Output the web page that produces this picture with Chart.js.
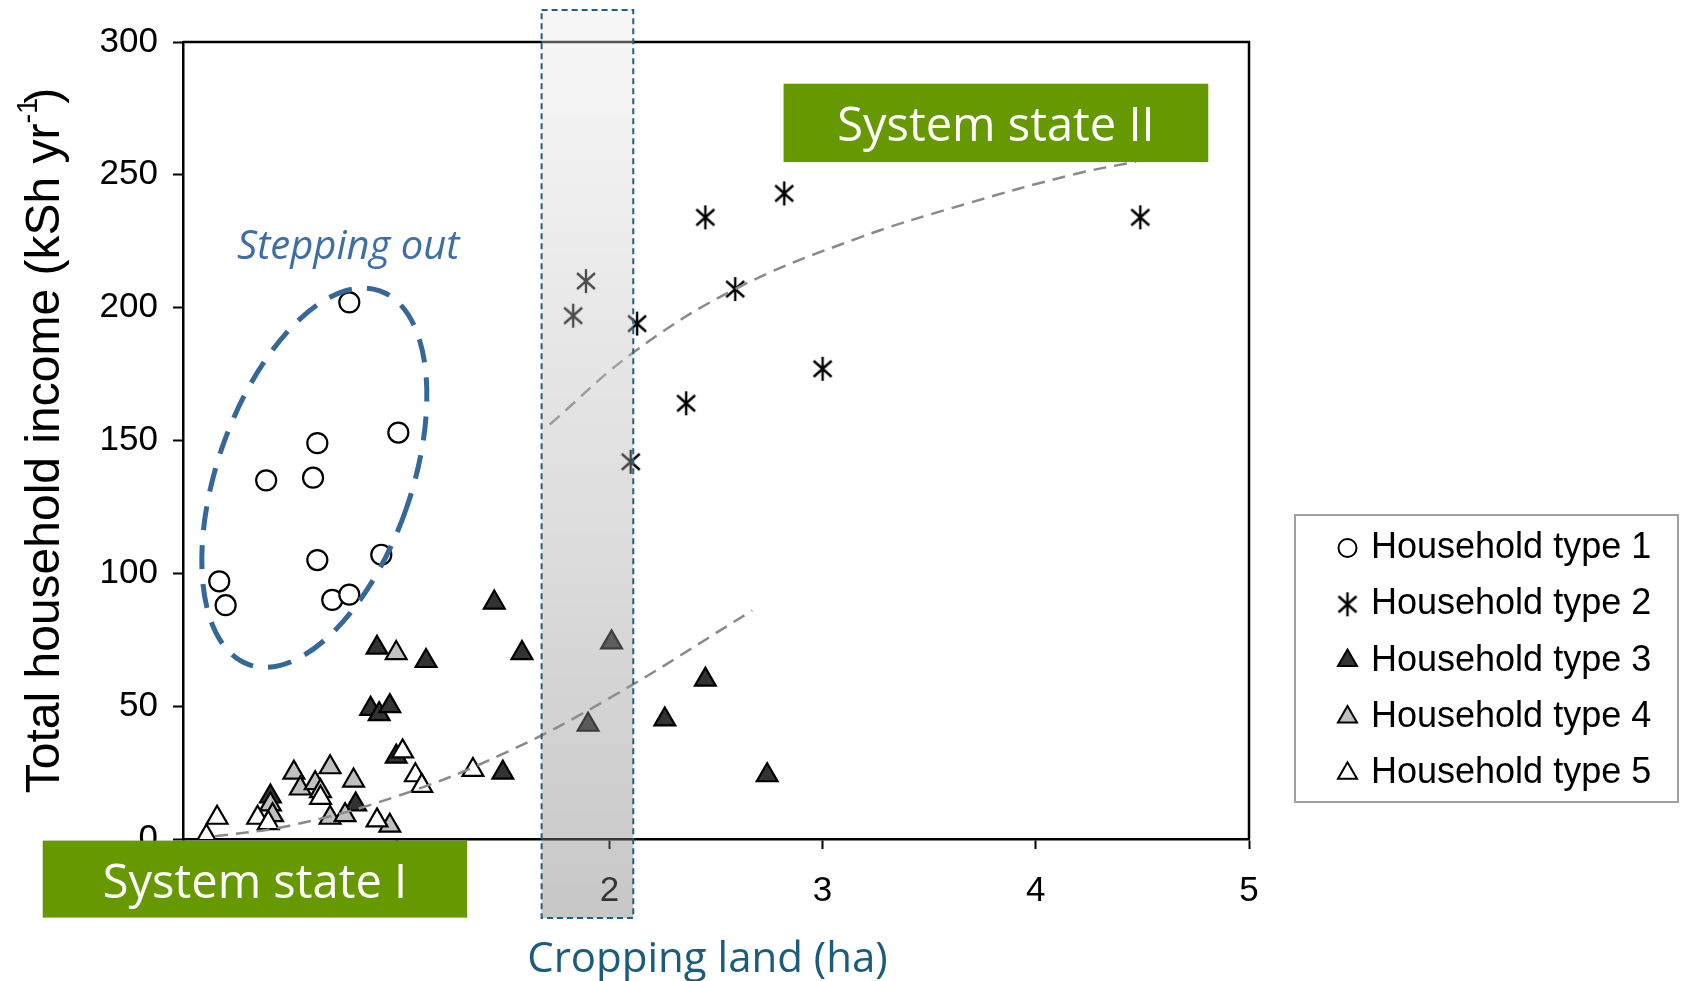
<!DOCTYPE html>
<html>
<head>
<meta charset="utf-8">
<title>Household income vs cropping land</title>
<script src="https://cdn.jsdelivr.net/npm/chart.js@4.4.1/dist/chart.umd.min.js"></script>
<style>
  html, body { margin: 0; padding: 0; background: #fff; }
  #wrap { width: 1681px; height: 981px; position: relative; }
</style>
</head>
<body>
<div id="wrap"><canvas id="chart"></canvas></div>
<script>
// --- data ---
const seriesLabels = ['Household type 1', 'Household type 2', 'Household type 3', 'Household type 4', 'Household type 5'];

const type1X = [0.17, 0.20, 0.39, 0.61, 0.63, 0.63, 0.70, 0.78, 0.78, 0.93, 1.01];
const type1Y = [97, 88, 135, 136, 149, 105, 90, 92, 202, 107, 153];

const type2X = [1.83, 1.89, 2.13, 2.10, 2.36, 2.45, 2.59, 2.82, 3.00, 4.49];
const type2Y = [197, 210, 194, 142, 164, 234, 207, 243, 177, 234];

const type3X = [0.41, 0.81, 0.88, 0.91, 0.92, 0.97, 1.00, 1.14, 1.46, 1.50, 1.59, 1.90, 2.01, 2.26, 2.45, 2.74];
const type3Y = [16, 13, 49, 72, 47, 50, 31, 67, 89, 25, 70, 43, 74, 45, 60, 24];

const type4X = [0.41, 0.42, 0.52, 0.55, 0.62, 0.645, 0.69, 0.69, 0.76, 0.80, 0.97, 1.00];
const type4Y = [13, 9, 25, 19, 21, 18, 27, 8, 9, 22, 5, 70];

const type5X = [0.11, 0.16, 0.35, 0.40, 0.645, 0.91, 1.03, 1.09, 1.12, 1.36];
const type5Y = [1, 8, 8, 6, 15.5, 7, 33, 24, 20, 26];

// dashed trend curves
const trendLowX = [0.15, 0.5, 1.0, 1.5, 2.0, 2.67];
const trendLowY = [1, 5, 16, 32, 53, 86];
const trendHighX = [1.72, 2.11, 2.59, 3.16, 3.67, 4.17, 4.47];
const trendHighY = [156, 183, 207, 226, 239, 250, 255];

const xTicks = [0, 1, 2, 3, 4, 5];
const yTicks = [0, 50, 100, 150, 200, 250, 300];

// annotation anchors (data units)
const bandFrom = 1.682, bandTo = 2.112;
const ellipseCenter = { x: 0.616, y: 136 };
const steppingAt = { x: 0.775, y: 222.5 };
const stateOne = { x0: -0.658, x1: 1.333, y0: -0.6, y1: -29.6 };
const stateTwo = { x0: 2.817, x1: 4.809, y0: 284.3, y1: 254.8 };
const xTitleAt = 2.46;

const tickFont = { family: "'Liberation Sans', Arial, sans-serif", size: 35 };

// asterisk marker (vertical bar + X) used for type 2
const asterisk = document.createElement('canvas');
asterisk.width = 22;
asterisk.height = 26;
(() => {
    const a = asterisk.getContext('2d');
    a.strokeStyle = '#000';
    a.lineWidth = 2.4;
    a.beginPath();
    a.moveTo(11, 1); a.lineTo(11, 25);
    a.moveTo(2, 5); a.lineTo(20, 21);
    a.moveTo(20, 5); a.lineTo(2, 21);
    a.stroke();
})();

const toPoints = (xs, ys) => xs.map((x, i) => ({ x: x, y: ys[i] }));

const markerStyles = [
    { pointStyle: 'circle', radius: 10, fill: '#ffffff', legendRadius: 9 },
    { pointStyle: asterisk, radius: 12, fill: '#000000', legendRadius: 12 },
    { pointStyle: 'triangle', radius: 12, fill: '#333333', legendRadius: 11 },
    { pointStyle: 'triangle', radius: 12, fill: '#c0c0c0', legendRadius: 11 },
    { pointStyle: 'triangle', radius: 12, fill: '#ffffff', legendRadius: 11 }
];

const seriesX = [type1X, type2X, type3X, type4X, type5X];
const seriesY = [type1Y, type2Y, type3Y, type4Y, type5Y];

const datasets = seriesLabels.map((label, i) => ({
    label: label,
    data: toPoints(seriesX[i], seriesY[i]),
    pointStyle: markerStyles[i].pointStyle,
    pointRadius: markerStyles[i].radius,
    pointHoverRadius: markerStyles[i].radius,
    backgroundColor: markerStyles[i].fill,
    borderColor: '#000',
    borderWidth: 2.2,
    order: 4 - i
}));

const trendStyle = {
    type: 'line',
    showLine: true,
    borderColor: '#8a8a8a',
    borderWidth: 2.5,
    borderDash: [13, 8],
    pointRadius: 0,
    fill: false,
    tension: 0.4,
    order: -1
};
datasets.push(Object.assign({ label: 'trend low', data: toPoints(trendLowX, trendLowY) }, trendStyle));
datasets.push(Object.assign({ label: 'trend high', data: toPoints(trendHighX, trendHighY) }, trendStyle));

// legend box and extras drawn on top of the plot
const legendBox = { left: 1295, top: 515, width: 383, height: 287, firstRow: 33, rowGap: 56.3, symbolX: 52.5, textX: 76 };

const annotations = {
    id: 'annotations',
    afterDraw(chart) {
        const { ctx, chartArea: area, scales: { x, y } } = chart;
        ctx.save();

        // top and right frame
        ctx.strokeStyle = '#000';
        ctx.lineWidth = 2.5;
        ctx.beginPath();
        ctx.moveTo(area.left, area.top);
        ctx.lineTo(area.right, area.top);
        ctx.lineTo(area.right, area.bottom);
        ctx.stroke();

        // "stepping out" ellipse
        ctx.strokeStyle = '#34679a';
        ctx.lineWidth = 5;
        ctx.setLineDash([24, 15]);
        ctx.beginPath();
        ctx.ellipse(x.getPixelForValue(ellipseCenter.x), y.getPixelForValue(ellipseCenter.y), 97, 198, 19.3 * Math.PI / 180, 0, Math.PI * 2);
        ctx.stroke();
        ctx.setLineDash([]);

        ctx.fillStyle = '#3d6fa6';
        ctx.font = "italic 40px 'Open Sans', sans-serif";
        ctx.textAlign = 'center';
        ctx.textBaseline = 'middle';
        ctx.fillText('Stepping out', x.getPixelForValue(steppingAt.x), y.getPixelForValue(steppingAt.y));

        // x axis title
        ctx.fillStyle = '#1b5c7c';
        ctx.font = "42px 'Open Sans', sans-serif";
        ctx.fillText('Cropping land (ha)', x.getPixelForValue(xTitleAt), chart.height - 21);

        // shaded transition band
        const bl = x.getPixelForValue(bandFrom), br = x.getPixelForValue(bandTo);
        const bt = area.top - 32, bb = area.bottom + 79;
        const grad = ctx.createLinearGradient(0, bt, 0, bb);
        grad.addColorStop(0, 'rgba(233,233,233,0.37)');
        grad.addColorStop(1, 'rgba(122,122,122,0.42)');
        ctx.fillStyle = grad;
        ctx.fillRect(bl, bt, br - bl, bb - bt);
        ctx.strokeStyle = '#1f5f80';
        ctx.lineWidth = 2;
        ctx.setLineDash([6, 4]);
        ctx.strokeRect(bl, bt, br - bl, bb - bt);
        ctx.setLineDash([]);

        // system state boxes
        [[stateOne, 'System state I'], [stateTwo, 'System state II']].forEach(([b, text]) => {
            const x0 = x.getPixelForValue(b.x0), x1 = x.getPixelForValue(b.x1);
            const y0 = y.getPixelForValue(b.y0), y1 = y.getPixelForValue(b.y1);
            ctx.fillStyle = '#669900';
            ctx.fillRect(x0, y0, x1 - x0, y1 - y0);
            ctx.fillStyle = '#ffffff';
            ctx.font = "47px 'Open Sans', sans-serif";
            ctx.textAlign = 'center';
            ctx.textBaseline = 'middle';
            ctx.fillText(text, (x0 + x1) / 2, (y0 + y1) / 2 + 5);
        });

        // legend
        ctx.fillStyle = '#fff';
        ctx.fillRect(legendBox.left, legendBox.top, legendBox.width, legendBox.height);
        ctx.strokeStyle = '#a0a0a0';
        ctx.lineWidth = 2;
        ctx.strokeRect(legendBox.left, legendBox.top, legendBox.width, legendBox.height);
        seriesLabels.forEach((label, i) => {
            const cy = legendBox.top + legendBox.firstRow + i * legendBox.rowGap;
            const cx = legendBox.left + legendBox.symbolX;
            ctx.fillStyle = markerStyles[i].fill;
            ctx.strokeStyle = '#000';
            ctx.lineWidth = 2;
            Chart.helpers.drawPoint(ctx, {
                pointStyle: markerStyles[i].pointStyle,
                radius: markerStyles[i].legendRadius,
                rotation: 0,
                borderWidth: 2
            }, cx, cy);
            ctx.fillStyle = '#000';
            ctx.font = "36px 'Liberation Sans', Arial, sans-serif";
            ctx.textAlign = 'left';
            ctx.textBaseline = 'middle';
            ctx.fillText(label, legendBox.left + legendBox.textX, cy);
        });

        // y axis title with superscript
        ctx.translate(59, (area.top + area.bottom) / 2);
        ctx.rotate(-Math.PI / 2);
        ctx.fillStyle = '#000';
        ctx.textAlign = 'left';
        ctx.textBaseline = 'alphabetic';
        const mainFont = "48px 'Liberation Sans', Arial, sans-serif";
        const supFont = "29px 'Liberation Sans', Arial, sans-serif";
        const mainText = 'Total household income (kSh yr';
        ctx.font = mainFont;
        const w1 = ctx.measureText(mainText).width;
        const w3 = ctx.measureText(')').width;
        ctx.font = supFont;
        const w2 = ctx.measureText('-1').width;
        let sx = -(w1 + w2 + w3 - 6) / 2;
        ctx.font = mainFont;
        ctx.fillText(mainText, sx, 0);
        ctx.font = supFont;
        ctx.fillText('-1', sx + w1, -22);
        ctx.font = mainFont;
        ctx.fillText(')', sx + w1 + w2 - 6, 0);

        ctx.restore();
    }
};

new Chart(document.getElementById('chart'), {
    type: 'scatter',
    data: { datasets: datasets },
    options: {
        responsive: true,
        maintainAspectRatio: false,
        animation: false,
        events: [],
        layout: { padding: { top: 42, right: 432, left: 0, bottom: 0 } },
        plugins: {
            legend: { display: false },
            tooltip: { enabled: false }
        },
        scales: {
            x: {
                type: 'linear',
                min: xTicks[0],
                max: xTicks[xTicks.length - 1],
                afterBuildTicks: (scale) => { scale.ticks = xTicks.map(v => ({ value: v })); },
                afterFit: (scale) => { scale.height = 142; },
                grid: { drawOnChartArea: false, drawTicks: true, tickLength: 10, tickColor: '#000', tickWidth: 2 },
                border: { display: true, color: '#000', width: 2.5 },
                ticks: { color: '#000', font: tickFont, padding: 21, maxRotation: 0 }
            },
            y: {
                type: 'linear',
                min: yTicks[0],
                max: yTicks[yTicks.length - 1],
                afterBuildTicks: (scale) => { scale.ticks = yTicks.map(v => ({ value: v })); },
                afterFit: (scale) => { scale.width = 183; },
                grid: { drawOnChartArea: false, drawTicks: true, tickLength: 10, tickColor: '#000', tickWidth: 2 },
                border: { display: true, color: '#000', width: 2.5 },
                ticks: { color: '#000', font: tickFont, padding: 15 }
            }
        }
    },
    plugins: [annotations]
});
</script>
</body>
</html>
